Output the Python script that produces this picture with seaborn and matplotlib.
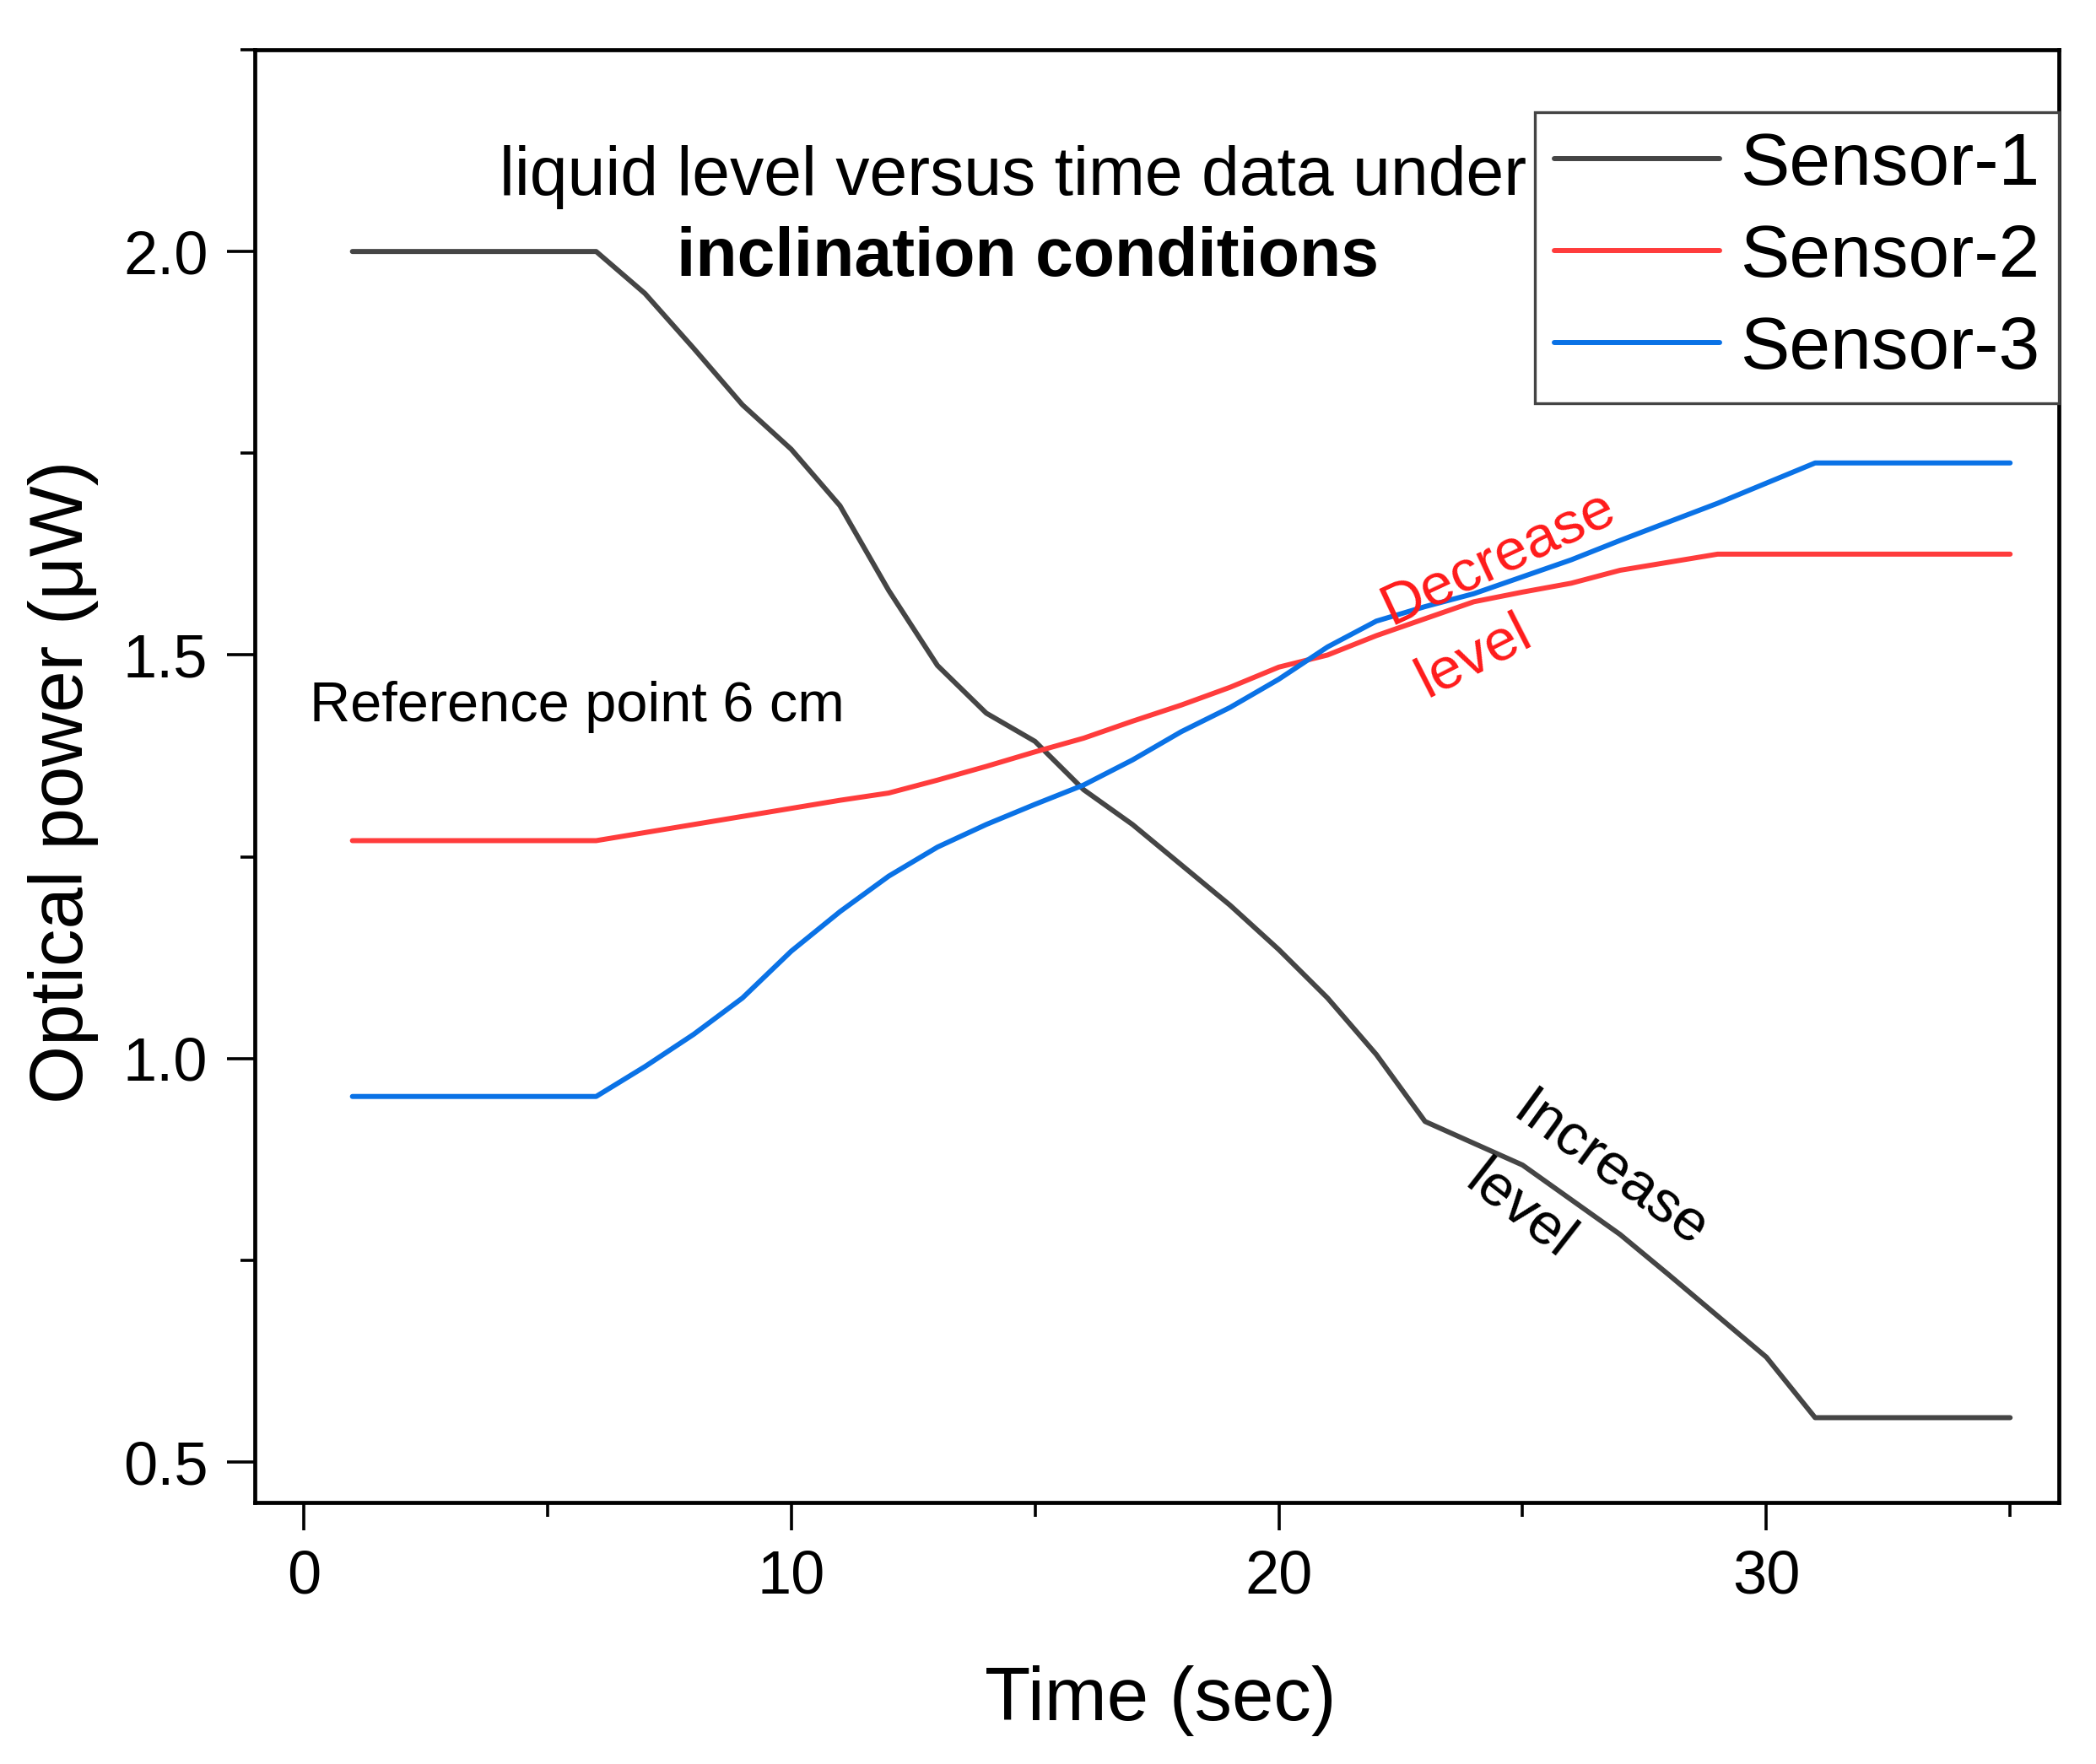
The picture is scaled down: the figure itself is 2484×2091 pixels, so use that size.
import pandas as pd
import matplotlib
matplotlib.use('Agg')
import matplotlib.pyplot as plt
from matplotlib.ticker import MultipleLocator
import seaborn as sns

# Values
time_sec = [1, 2, 3, 4, 5, 6, 7, 8, 9, 10, 11, 12, 13, 14, 15, 16, 17, 18,
            19, 20, 21, 22, 23, 24, 25, 26, 27, 28, 29, 30, 31, 32, 33, 34, 35]
sensor1 = [2.0, 2.0, 2.0, 2.0, 2.0, 2.0, 1.948, 1.88, 1.81, 1.755, 1.685, 1.58,
           1.487, 1.428, 1.393, 1.333, 1.29, 1.24, 1.19, 1.135, 1.075, 1.005,
           0.922, 0.895, 0.868, 0.825, 0.782, 0.732, 0.681, 0.63, 0.555, 0.555,
           0.555, 0.555, 0.555]
sensor2 = [1.27, 1.27, 1.27, 1.27, 1.27, 1.27, 1.28, 1.29, 1.30, 1.31, 1.32, 1.329,
           1.345, 1.362, 1.38, 1.397, 1.418, 1.438, 1.46, 1.485, 1.50, 1.524,
           1.545, 1.566, 1.578, 1.589, 1.605, 1.615, 1.625, 1.625, 1.625, 1.625,
           1.625, 1.625, 1.625]
sensor3 = [0.953, 0.953, 0.953, 0.953, 0.953, 0.953, 0.99, 1.03, 1.075, 1.133,
           1.182, 1.226, 1.262, 1.29, 1.315, 1.339, 1.37, 1.405, 1.435, 1.47,
           1.51, 1.542, 1.56, 1.576, 1.597, 1.618, 1.642, 1.665, 1.688, 1.713,
           1.738, 1.738, 1.738, 1.738, 1.738]
sensor_names = ['Sensor-1', 'Sensor-2', 'Sensor-3']
colors = ['#454545', '#ff3c3c', '#0a72e6']

df = pd.DataFrame({
    'Time': time_sec * 3,
    'Power': sensor1 + sensor2 + sensor3,
    'Sensor': [sensor_names[0]] * len(time_sec) + [sensor_names[1]] * len(time_sec)
              + [sensor_names[2]] * len(time_sec),
})

sns.set_style('ticks')
plt.rcParams['font.family'] = ['Liberation Sans', 'DejaVu Sans']
plt.rcParams['text.color'] = 'black'
plt.rcParams['axes.labelcolor'] = 'black'

fig = plt.figure(figsize=(24.84, 20.91), dpi=100)
ax = fig.add_axes([0.1216, 0.1483, 0.8607, 0.8235])

sns.lineplot(data=df, x='Time', y='Power', hue='Sensor', palette=colors,
             linewidth=4.3, ax=ax, legend=False)

ax.set_xlim(-1, 36)
ax.set_ylim(0.45, 2.25)
ax.xaxis.set_major_locator(MultipleLocator(10))
ax.xaxis.set_minor_locator(MultipleLocator(5))
ax.yaxis.set_major_locator(MultipleLocator(0.5))
ax.yaxis.set_minor_locator(MultipleLocator(0.25))
ax.yaxis.set_major_formatter(matplotlib.ticker.FormatStrFormatter('%.1f'))
ax.tick_params(which='major', direction='out', length=24, width=2.6,
               labelsize=52, pad=16, colors='black')
ax.tick_params(which='minor', direction='out', length=12, width=2.6, colors='black')
for side in ['left', 'bottom', 'top', 'right']:
    ax.spines[side].set_linewidth(3.4)
    ax.spines[side].set_color('black')

ax.set_xlabel('Time (sec)', fontsize=64)
ax.set_ylabel('Optical power (μW)', fontsize=64)
ax.xaxis.set_label_coords(0.502, -0.112)
ax.yaxis.set_label_coords(-0.0865, 0.496)

# annotations
ax.text(14.55, 2.092, 'liquid level versus time data under', fontsize=58,
        ha='center', va='center')
ax.text(14.85, 1.992, 'inclination conditions', fontsize=58, fontweight='bold',
        ha='center', va='center')
ax.text(0.12, 1.436, 'Reference point 6 cm', fontsize=48, ha='left', va='center')
ax.text(24.5, 1.62, 'Decrease', fontsize=50, color='#ff1a1a', rotation=25,
        ha='center', va='center', rotation_mode='anchor')
ax.text(24.0, 1.498, 'level', fontsize=50, color='#ff1a1a', rotation=27,
        ha='center', va='center', rotation_mode='anchor')
ax.text(26.8, 0.861, 'Increase', fontsize=50, color='black', rotation=-36,
        ha='center', va='center', rotation_mode='anchor')
ax.text(24.95, 0.811, 'level', fontsize=50, color='black', rotation=-38,
        ha='center', va='center', rotation_mode='anchor')

handles = [plt.Line2D([], [], color=c, linewidth=4.3) for c in colors]
leg = ax.legend(handles, sensor_names, loc='upper right', bbox_to_anchor=(1.0, 0.957),
                borderaxespad=0, fontsize=63, handlelength=2.25, handletextpad=0.27,
                labelspacing=0.32, borderpad=0.26, fancybox=False, framealpha=1)
leg.get_frame().set_edgecolor('#444444')
leg.get_frame().set_linewidth(2.4)

fig.savefig('out.png', dpi=100)
